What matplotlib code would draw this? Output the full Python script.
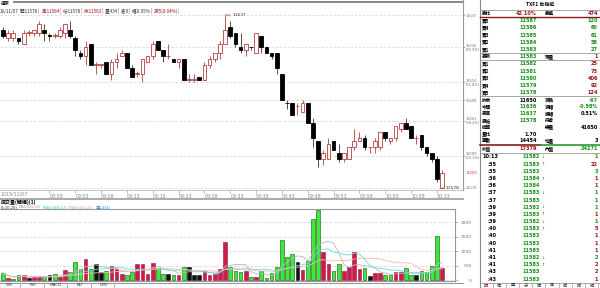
import numpy as np
import pandas as pd
import matplotlib
matplotlib.use("Agg")
import matplotlib.pyplot as plt
from matplotlib.transforms import blended_transform_factory

plt.rcParams['font.family'] = ['Noto Sans CJK TC', 'DejaVu Sans']

# TXF1 1-minute bars, 2019/11/07 08:49 - 10:14
opens = [11632, 11629, 11629, 11629, 11627, 11631, 11631, 11631, 11632, 11630,
         11630, 11630, 11631, 11632, 11629, 11624, 11623, 11627, 11620, 11620,
         11621, 11617, 11621, 11623, 11624, 11619, 11617, 11617, 11621, 11623,
         11628, 11625, 11623, 11622, 11621, 11622, 11615, 11615, 11616, 11615,
         11620, 11622, 11624, 11627, 11633, 11631, 11626, 11625, 11626, 11624,
         11630, 11626, 11624, 11624, 11617, 11607, 11607, 11606, 11604, 11607,
         11600, 11594, 11588, 11588, 11594, 11590, 11588, 11588, 11592, 11594,
         11595, 11592, 11592, 11592, 11597, 11594, 11595, 11598, 11600, 11599,
         11595, 11596, 11592, 11590, 11588, 11578]
highs = [11633, 11632, 11632, 11629, 11632, 11632, 11632, 11635, 11634, 11631,
         11631, 11633, 11634, 11635, 11630, 11625, 11628, 11627, 11621, 11620,
         11621, 11622, 11624, 11625, 11624, 11620, 11618, 11622, 11623, 11628,
         11628, 11625, 11627, 11622, 11622, 11622, 11617, 11617, 11616, 11621,
         11623, 11624, 11628, 11637, 11635, 11631, 11631, 11627, 11626, 11631,
         11630, 11626, 11624, 11624, 11617, 11608, 11607, 11607, 11608, 11607,
         11602, 11594, 11591, 11595, 11594, 11593, 11590, 11592, 11598, 11597,
         11596, 11592, 11595, 11597, 11597, 11595, 11599, 11600, 11602, 11599,
         11596, 11596, 11592, 11590, 11589, 11584]
lows = [11629, 11628, 11628, 11627, 11627, 11630, 11630, 11630, 11628, 11628,
        11629, 11629, 11629, 11629, 11623, 11622, 11620, 11620, 11617, 11619,
        11617, 11615, 11619, 11623, 11619, 11616, 11616, 11614, 11621, 11622,
        11625, 11621, 11622, 11621, 11619, 11615, 11614, 11614, 11615, 11615,
        11619, 11621, 11622, 11627, 11629, 11626, 11624, 11623, 11625, 11624,
        11624, 11624, 11622, 11617, 11608, 11605, 11603, 11603, 11604, 11600,
        11592, 11585, 11586, 11588, 11591, 11587, 11587, 11588, 11591, 11594,
        11591, 11590, 11590, 11591, 11594, 11593, 11594, 11597, 11598, 11595,
        11593, 11591, 11589, 11587, 11580, 11578]
closes = [11630, 11631, 11631, 11628, 11631, 11631, 11632, 11634, 11631, 11630,
          11630, 11632, 11634, 11630, 11625, 11623, 11626, 11620, 11620, 11620,
          11617, 11621, 11622, 11624, 11619, 11616, 11617, 11622, 11623, 11627,
          11625, 11623, 11623, 11621, 11622, 11615, 11615, 11615, 11615, 11620,
          11622, 11624, 11627, 11632, 11630, 11627, 11625, 11627, 11626, 11631,
          11626, 11624, 11623, 11619, 11608, 11607, 11603, 11606, 11607, 11600,
          11595, 11588, 11590, 11593, 11591, 11588, 11590, 11592, 11594, 11595,
          11592, 11592, 11594, 11597, 11595, 11595, 11599, 11600, 11598, 11595,
          11595, 11592, 11590, 11588, 11581, 11583]
volume = [260, 70, 40, 170, 180, 70, 110, 110, 110, 180,
          220, 110, 350, 280, 630, 375, 750, 375, 560, 280,
          320, 490, 375, 220, 200, 290, 570, 560, 220, 610,
          430, 220, 230, 170, 200, 450, 450, 200, 170, 320,
          200, 230, 375, 1310, 470, 320, 280, 320, 120, 120,
          320, 90, 260, 450, 1400, 820, 900, 630, 350, 670,
          2100, 2400, 960, 560, 340, 560, 320, 450, 990, 375,
          410, 140, 260, 260, 170, 170, 280, 280, 410, 180,
          170, 320, 290, 490, 1510, 434]
# 1 = outer (red), -1 = inner (green), 0 = flat (black)
vol_side = [-1, 1, -1, -1, 1, 0, 1, 1, -1, 0,
            -1, 1, 1, -1, -1, -1, 1, -1, 0, 0,
            -1, 1, 1, 1, -1, -1, 1, 1, 1, 1,
            -1, -1, 0, -1, 1, -1, 0, 0, 0, 1,
            1, 1, 1, 1, -1, -1, -1, 1, -1, 1,
            -1, -1, -1, -1, -1, -1, -1, 0, 1, -1,
            -1, -1, 1, 1, -1, -1, 1, 1, 1, 1,
            -1, 0, 1, 1, -1, -1, 1, 1, -1, -1,
            0, -1, -1, -1, -1, 1]

fib_pct = [1.0, 0.809, 0.618, 0.5, 0.382, 0.191, 0.0]
vol_ticks = [0, 500, 1000, 1500, 2000]
ma_periods = [5, 10, 20]
first_time_tick = '08:58'

# header texts
info_segments = ['19/11/07', '開11578 |', '高11584 |', '低11578 |', '收11583 |',
                 '量434 |', '倉0 |', '幅0.05% |', '漲5(0.04%) |']
vol_title = '成交量(解構)(1)'
vol_ma_text = ['(5,10,20)', 'MA1:431.60', '[MA2:468.17]', '[MA3:434.20]', '[量:434]']
main_tabs = ['WR', 'RSI', 'MACD', 'KD', 'DMI']

# quote panel
ask_lbl = ['賣5', '賣4', '賣3', '賣2', '賣1']
ask_px = [11587, 11586, 11585, 11584, 11583]
ask_qty = [120, 60, 61, 58, 27]
bid_lbl = ['買1', '買2', '買3', '買4', '買5']
bid_px = [11582, 11581, 11580, 11579, 11578]
bid_qty = [25, 73, 406, 92, 124]
quote_ratio = ['42.10%', '474']
last_px, last_qty = 11583, 1
prev_close, day_open, day_high, day_low = 11650, 11636, 11637, 11578
chg, chg_pct, amp_pct = '-67', '-0.58%', '0.51%'
total_vol, vol_ratio, trades, avg_qty = 41650, '1.70', 14454, 3
outer_vol, inner_vol = 17379, 24271
tick_time = ['10:13', ':35', ':35', ':36', ':36', ':37', ':37', ':39', ':39',
             ':39', ':40', ':40', ':40', ':41', ':41', ':41', ':43', ':43']
tick_px = [11582, 11583, 11583, 11584, 11584, 11583, 11583, 11582, 11583,
           11582, 11583, 11583, 11583, 11583, 11582, 11583, 11583, 11583]
tick_dir = [-1, 1, 0, 1, 0, -1, 0, -1, 1, -1, 1, 0, 0, 0, -1, 1, 0, 0]
tick_qty = [1, 22, 3, 1, 1, 1, 1, 1, 1, 1, 5, 1, 1, 1, 2, 2, 2, 1]
tick_side = [-1, 1, -1, 1, 1, -1, -1, -1, 1, -1, 1, 1, 1, 1, -1, 1, 1, 1]
right_tabs = ['明', '價', '量', '分', '價', '區', '成', '時', '解']

RED = '#b5403f'
GREEN_TXT = '#139113'
RED_TXT = '#a31010'
NUM = 'DejaVu Sans'

n = len(opens)
o = np.array(opens, float)
h = np.array(highs, float)
l = np.array(lows, float)
c = np.array(closes, float)
x = np.arange(n)
prev_c = np.r_[c[0], c[:-1]]
up = (c > o) | ((c == o) & (c >= prev_c))
times = pd.date_range('2019-11-07 08:49', periods=n, freq='min')

W, H = 600.0, 288.0
def rect(x0, y0, x1, y1):
    return [x0 / W, 1 - y1 / H, (x1 - x0) / W, (y1 - y0) / H]

step = 5.165
x_first = 3.0

fig = plt.figure(figsize=(6, 2.88), dpi=100)
fig.patch.set_facecolor('white')

# ---- price pane
ax = fig.add_axes(rect(0, 14, 463, 190))
hi, lo = h.max(), l.min()
ax.set_xlim(-x_first / step, (463 - x_first) / step)
ax.set_ylim(lo - 0.7, hi + 0.35)

wick_col = np.where(up, RED, '#333333')
ax.vlines(x, l, h, colors=wick_col, lw=0.6, zorder=2)
body_lo = np.minimum(o, c)
body_h = np.maximum(np.abs(c - o), 0.12)
ax.bar(x[up], body_h[up], bottom=body_lo[up], width=0.72, facecolor='white',
       edgecolor=RED, lw=0.6, zorder=3)
ax.bar(x[~up], body_h[~up], bottom=body_lo[~up], width=0.72, facecolor='black',
       edgecolor='black', lw=0.6, zorder=3)

levels = [int(lo + f * (hi - lo) + 0.5) for f in fib_pct]
lev_labels = []
for f, v in zip(fib_pct, levels):
    if 0 < f < 1 and f != 0.5:
        lev_labels.append(f'{v}\n({f * 100:.1f}%)')
    else:
        lev_labels.append(f'{v}')
ax.set_yticks(levels)
ax.set_yticklabels(lev_labels)
ax.yaxis.set_ticks_position('right')
ax.tick_params(axis='y', length=1.5, width=0.5, pad=0.6, labelsize=2.6,
               labelcolor='#777777', color='#999999')
plt.setp(ax.get_yticklabels(), linespacing=1.0, family=NUM)
ax.grid(axis='y', ls=(0, (3, 2)), color='#d8d8d8', lw=0.6)

t_start = times[0].normalize() + pd.Timedelta(first_time_tick + ':00')
tick_idx = [i for i in range(n) if times[i] >= t_start and times[i].minute % 5 == 3]
ax.set_xticks(tick_idx)
ax.set_xticklabels([times[i].strftime('%H:%M') for i in tick_idx])
plt.setp(ax.get_xticklabels(), ha='left', family=NUM)
ax.tick_params(axis='x', length=2, width=0.5, pad=0.8, labelsize=3.4,
               labelcolor='#888888', color='#999999')
for s in ['top', 'left']:
    ax.spines[s].set_visible(False)
ax.spines['right'].set_color('#999999')
ax.spines['right'].set_linewidth(0.8)
ax.spines['bottom'].set_color('#bbbbbb')
ax.spines['bottom'].set_linewidth(0.6)

ih = int(np.argmax(h))
ax.annotate(f'{int(hi)}', xy=(ih, hi), xytext=(ih + 1.5, hi), va='center',
            fontsize=3.2, color='#333333', family=NUM,
            arrowprops=dict(arrowstyle='-', color=RED, lw=0.6, shrinkA=0, shrinkB=0))
il = int(np.argmin(l))
ax.annotate(f'{int(lo)}', xy=(il, lo), xytext=(il + 0.7, lo), va='center',
            fontsize=3.2, color='#333333', family=NUM,
            arrowprops=dict(arrowstyle='-', color='#333333', lw=0.5, shrinkA=0, shrinkB=0))
bt = blended_transform_factory(ax.transAxes, ax.transData)
ax.text(1.0 + 3.0 / 463, c[-1], f'{int(c[-1])}', transform=bt, va='center',
        fontsize=2.7, color='#e03030', clip_on=False, family=NUM)

# ---- volume pane
axv = fig.add_axes(rect(0, 209, 455, 281))
axv.set_xlim(-x_first / step, (455 - x_first) / step)
axv.set_ylim(-20, 2450)
side = np.array(vol_side)
fills = np.where(side > 0, '#cc1c4c', np.where(side < 0, '#3ee83a', '#111111'))
edges = np.where(side > 0, '#a01038', np.where(side < 0, '#1d4a1d', '#111111'))
axv.bar(x, volume, width=0.72, color=fills, edgecolor=edges, lw=0.4, zorder=2)
vs = pd.Series(volume, dtype=float)
for p, col in zip(ma_periods, ['#b8b8b8', '#5fe0e0', '#ffb8a8']):
    axv.plot(x, vs.rolling(p, min_periods=1).mean(), color=col, lw=0.6, zorder=3)
axv.set_yticks(vol_ticks)
axv.set_yticklabels([str(v) for v in vol_ticks])
axv.yaxis.set_ticks_position('right')
axv.tick_params(axis='y', length=2, width=0.5, pad=10, labelsize=3.2,
                labelcolor='#777777', color='#999999')
plt.setp(axv.get_yticklabels(), ha='right', family=NUM)
axv.set_xticks([])
axv.grid(axis='y', ls=(0, (3, 2)), color='#d8d8d8', lw=0.6)
axv.spines['left'].set_visible(False)
for s in ['top', 'right', 'bottom']:
    axv.spines[s].set_color('#999999')
    axv.spines[s].set_linewidth(0.8)

# ---- overlay for header / quote panel
ov = fig.add_axes([0, 0, 1, 1], zorder=10)
ov.set_xlim(0, W)
ov.set_ylim(H, 0)
ov.axis('off')
ov.patch.set_visible(False)

def t(xp, yp, s, color='black', ha='left', size=4.0, bold=False, family=None):
    kw = {} if family is None else {'family': family}
    return ov.text(xp, yp, s, color=color, ha=ha, va='center', fontsize=size,
                   fontweight='bold' if bold else 'normal', **kw)

def chain(xp, yp, parts, colors, size):
    # write text pieces one after another on the same line
    prev = t(xp, yp, parts[0], color=colors[0], size=size)
    for s, col in zip(parts[1:], colors[1:]):
        prev = ov.annotate(s, xy=(1, 0.5), xycoords=prev, xytext=(1.2, 0),
                           textcoords='offset points', va='center', ha='left',
                           fontsize=size, color=col)

t(0.5, 3.5, '還原', size=3.2)
ov.plot([14, 463], [1.5, 1.5], color='#888888', lw=1.4)
seg_c = ['#333333', '#333333', RED_TXT, '#333333', RED_TXT, '#333333', '#333333',
         '#333333', RED_TXT]
chain(0, 11, info_segments, seg_c, 3.3)

t(0.5, 194, '2019/11/07', color='#888888', size=3.4, family=NUM)
ov.plot([0, 463], [198.5, 198.5], color='#aaaaaa', lw=1.4)
t(0.5, 202, vol_title, size=3.6, bold=True)
ma_c = ['#333333', '#999999', '#33cccc', '#ff9980', '#3399dd']
chain(0.5, 207, vol_ma_text, ma_c, 3.0)

ov.plot([0, 463], [282.5, 282.5], color='#999999', lw=0.8)
for k, s in enumerate(main_tabs):
    t(9 + k * 23.5, 285.5, s, ha='center', size=3.0, color='#333333', family=NUM)
    ov.plot([20 + k * 23.5] * 2, [283, 288], color='#999999', lw=0.5)

# quote panel
ov.plot([480, 480], [0, 288], color='#888888', lw=0.8)
ov.plot([463, 463], [0, 14], color='#999999', lw=0.8)
t(540, 4.8, 'TXF1 台指近', ha='center', size=3.6, bold=True)
ov.plot([480, 600], [9.6, 9.6], color='#999999', lw=0.6)

L1, V1, L2, V2 = 482, 537, 545, 598
LS, VS = 3.3, 3.6
def row(yp, l1, v1, c1, l2='', v2='', c2='black'):
    t(L1, yp, l1, size=LS, bold=True)
    t(V1, yp, v1, color=c1, ha='right', size=VS, bold=True, family=NUM)
    if l2:
        t(L2, yp, l2, size=LS, bold=True)
    if v2 != '':
        t(V2, yp, v2, color=c2, ha='right', size=VS, bold=True, family=NUM)

ys = [13.5 + 7.2 * k for k in range(13)]
row(ys[0], '委比', quote_ratio[0], RED_TXT, '委差', quote_ratio[1], RED_TXT)
ov.plot([480, 600], [17.3, 17.3], color='#8b1a1a', lw=1.0)
for k in range(5):
    row(ys[1 + k], ask_lbl[k], str(ask_px[k]), GREEN_TXT, '', str(ask_qty[k]), GREEN_TXT)
row(ys[6], '最新', str(last_px), GREEN_TXT, '現量', str(last_qty), RED_TXT)
ov.plot([480, 600], [ys[6] - 3.6] * 2, color='#999999', lw=0.6)
ov.plot([480, 600], [ys[6] + 3.6] * 2, color='#999999', lw=0.6)
for k in range(5):
    row(ys[7 + k], bid_lbl[k], str(bid_px[k]), GREEN_TXT, '', str(bid_qty[k]), RED_TXT)
ov.plot([480, 600], [96.4, 96.4], color='#999999', lw=0.6)

yl = [100 + 6.8 * j for j in range(7)]
row(yl[0], '昨收', str(prev_close), 'black', '漲跌', chg, GREEN_TXT)
row(yl[1], '今開', str(day_open), GREEN_TXT, '漲幅', chg_pct, GREEN_TXT)
row(yl[2], '最高', str(day_high), GREEN_TXT, '振幅', amp_pct, 'black')
row(yl[3], '最低', str(day_low), GREEN_TXT, '持倉', '', 'black')
row(yl[4], '結算', '', 'black', '總量', str(total_vol), 'black')
row(yl[5], '量比', vol_ratio, 'black')
row(yl[6], '筆數', str(trades), 'black', '均量', str(avg_qty), 'black')
ov.plot([480, 540], [145, 145], color='#8b1a1a', lw=1.2)
ov.plot([541, 600], [145, 145], color='#2a9a2a', lw=1.2)
row(149, '外盤', str(outer_vol), RED_TXT, '內盤', str(inner_vol), GREEN_TXT)
ov.plot([480, 600], [152.8, 152.8], color='#999999', lw=0.6)

for j in range(len(tick_time)):
    yp = 157 + 7.18 * j
    tx = 482 if j == 0 else 488
    t(tx, yp, tick_time[j], size=3.6, bold=True, family=NUM)
    t(540, yp, str(tick_px[j]), color=GREEN_TXT, ha='right', size=3.6, bold=True, family=NUM)
    if tick_dir[j] != 0:
        t(541, yp, '↑' if tick_dir[j] > 0 else '↓',
          color=RED_TXT if tick_dir[j] > 0 else GREEN_TXT, size=2.8, family=NUM)
    t(598, yp, str(tick_qty[j]), color=RED_TXT if tick_side[j] > 0 else GREEN_TXT,
      ha='right', size=3.6, bold=True, family=NUM)

ov.plot([480, 600], [282.5, 282.5], color='#999999', lw=0.6)
for k, s in enumerate(right_tabs):
    t(486 + k * 13.2, 285.5, s, ha='center', size=3.0,
      color=RED_TXT if k == 0 else '#333333')
    ov.plot([492.5 + k * 13.2] * 2, [283, 288], color='#999999', lw=0.5)

fig.savefig('out.png', dpi=100, facecolor='white')
